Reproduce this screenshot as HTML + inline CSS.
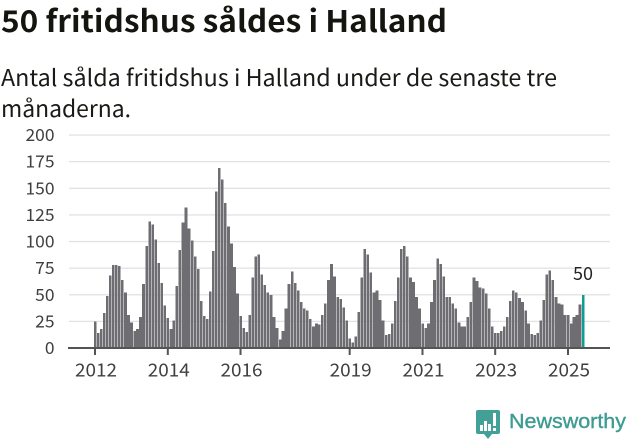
<!DOCTYPE html>
<html lang="sv">
<head>
<meta charset="utf-8">
<title>50 fritidshus såldes i Halland</title>
<style>
html,body{margin:0;padding:0;background:#fff;width:631px;height:439px;overflow:hidden}
svg{display:block;font-family:"Noto Sans CJK JP","Liberation Sans",sans-serif}
</style>
</head>
<body>
<svg id="chart" width="631" height="439" viewBox="0 0 631 439" xmlns="http://www.w3.org/2000/svg">
  <text x="1" y="32" font-size="30" font-weight="700" fill="#15150f" textLength="446" lengthAdjust="spacingAndGlyphs">50 fritidshus såldes i Halland</text>
  <text x="1" y="86" font-size="23" fill="#1a1a16" textLength="556" lengthAdjust="spacingAndGlyphs">Antal sålda fritidshus i Halland under de senaste tre</text>
  <text x="1" y="117" font-size="23" fill="#1a1a16" textLength="130" lengthAdjust="spacingAndGlyphs">månaderna.</text>
  <g id="grid"></g>
  <g id="bars"></g>
  <g id="axis"></g>
  <g id="ylabels"></g>
  <g>
    <path d="M478 410h20q2 0 2 2v20q0 2-2 2h-6l-4 5-4-5h-6q-2 0-2-2v-20q0-2 2-2z" fill="#43a097"/>
    <rect x="480" y="425" width="3" height="6" fill="#fff"/>
    <rect x="484" y="421" width="3" height="10" fill="#fff"/>
    <rect x="488" y="424" width="3" height="7" fill="#fff"/>
    <rect x="493" y="413" width="3" height="13" fill="#fff"/>
    <rect x="493" y="428" width="3" height="3" fill="#fff"/>
    <text x="509" y="428" font-family="Liberation Sans, sans-serif" font-size="20.500" fill="#3f9c93" stroke="#3f9c93" stroke-width="0.4" textLength="117" lengthAdjust="spacingAndGlyphs">Newsworthy</text>
  </g>
</svg>
<script>
const startYear = 2012;
const values = [
  25,14,18,33,49,68,78,78,77,64,52,31,
  24,16,18,29,60,96,119,116,102,80,61,40,
  28,18,26,58,92,118,132,112,101,86,74,44,
  30,27,53,91,147,169,158,136,114,98,76,51,
  30,19,15,31,66,86,88,69,59,52,50,29,
  19,8,16,37,60,72,61,54,43,37,35,27,
  20,23,22,31,42,64,79,67,48,46,38,26,
  9,5,11,34,66,93,88,71,52,54,45,26,
  12,13,23,44,66,93,96,86,66,62,48,37,
  23,19,23,43,64,84,79,67,48,48,42,37,
  24,20,20,29,43,66,63,57,56,51,37,20,
  14,14,16,20,29,44,54,52,47,43,35,23,
  13,12,14,26,45,69,73,64,48,42,41,31,
  31,23,29,31,41,50
];
const yTicks = [0,25,50,75,100,125,150,175,200];
const xTickYears = [2012,2014,2016,2019,2021,2023,2025];

const NS = 'http://www.w3.org/2000/svg';
const DAY = 86400000;
const x = i => 95 + (Date.UTC(startYear, i, 1) - Date.UTC(startYear, 0, 1)) / DAY * 0.0996;
const y = v => 348 - v * 1.065;
function make(tag, attrs, text){
  const el = document.createElementNS(NS, tag);
  for (const k in attrs) el.setAttribute(k, attrs[k]);
  if (text !== undefined) el.textContent = text;
  return el;
}
const grid = document.getElementById('grid');
const ylabels = document.getElementById('ylabels');
yTicks.forEach(t => {
  if (t > 0) {
    const line = make('rect', {x:69, y:y(t)-0.6, width:541, height:1.3, fill:'#e2e2e2'});
    
    
    grid.appendChild(line);
  }
  const s = String(t);
  const lab = make('text', {x:54.5 - s.length * 9.67, y:y(t)+6, 'font-size':17, fill:'#3f3f3f', textLength:s.length * 9.67, lengthAdjust:'spacingAndGlyphs'}, s);
  
  
  ylabels.appendChild(lab);
});
const bars = document.getElementById('bars');
values.forEach((v, i) => {
  const last = i === values.length - 1;
  const bar = make('rect', {x:x(i)-1.22, y:y(v), width:2.65, height:348-y(v), fill:last ? '#0e9d94' : '#6e6d72', 'shape-rendering':'crispEdges'});
  
  
  bars.appendChild(bar);
});
const lastIndex = values.length - 1;
const valueLabel = make('text', {x:x(lastIndex)-10, y:y(values[lastIndex])-15, 'font-size':18, fill:'#222', textLength:20, lengthAdjust:'spacingAndGlyphs'}, String(values[lastIndex]));


bars.appendChild(valueLabel);
const axis = document.getElementById('axis');
const baseline = make('rect', {x:68, y:347, width:542, height:2, fill:'#545454'});


axis.appendChild(baseline);
xTickYears.forEach(yr => {
  const px = x((yr - startYear) * 12);
  const tick = make('rect', {x:px-1, y:348, width:2, height:7, fill:'#545454'});
  
  
  axis.appendChild(tick);
  const lab = make('text', {x:px-20, y:376.5, 'font-size':18.3, fill:'#3f3f3f', textLength:42, lengthAdjust:'spacingAndGlyphs'}, String(yr));
  
  
  axis.appendChild(lab);
});
</script>
</body>
</html>
